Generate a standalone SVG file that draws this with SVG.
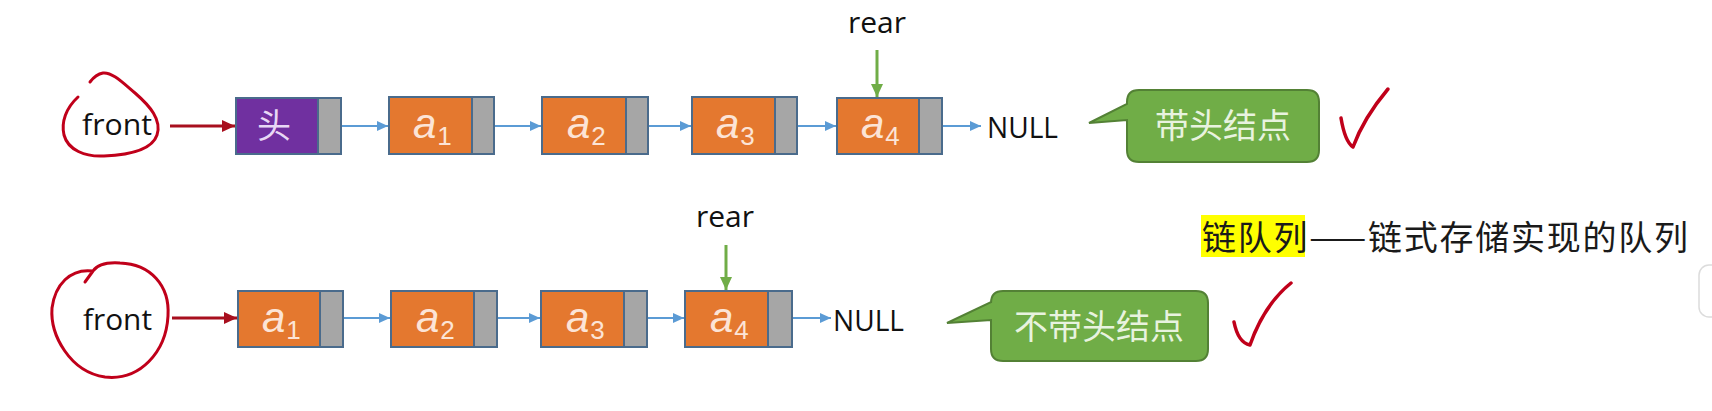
<svg xmlns="http://www.w3.org/2000/svg" width="1712" height="411" viewBox="0 0 1712 411">
<style>
.bg{fill:#ffffff}
.data{fill:#e4782f;stroke:none}
.headd{fill:#7030a0;stroke:none}
.ptr{fill:#a6a6a6;stroke:none}
.box{fill:none;stroke:#4a6b8c;stroke-width:2}
.lbl{font-family:"Liberation Sans",Arial,sans-serif;font-style:italic;fill:#fce4d6;font-size:42px}
.sub{font-family:"Liberation Sans",Arial,sans-serif;fill:#fce4d6;font-size:26px}
.txt{font-family:"Open Sans","Liberation Sans",sans-serif;fill:#111111;font-size:30px}
.blue{stroke:#5b9bd5;stroke-width:2;fill:none}
.red{stroke:#a80f1e;stroke-width:3;fill:none}
.green{stroke:#70ad47;stroke-width:3;fill:none}
.ink{stroke:#c0001a;stroke-width:3;fill:none;stroke-linecap:round;stroke-linejoin:round}
.callout{fill:#70ad47;stroke:#538135;stroke-width:2}
.ctext{font-family:"Noto Sans CJK SC",sans-serif;fill:#e8f3df;font-size:34px}
.cjk{font-family:"Noto Sans CJK SC",sans-serif;fill:#1a1a1a;font-size:34px}
</style>
<defs>
<marker id="ab" markerUnits="userSpaceOnUse" markerWidth="12" markerHeight="12" refX="11" refY="6" orient="auto"><path d="M0,1 L11,6 L0,11 Z" fill="#5b9bd5"/></marker>
<marker id="ar" markerUnits="userSpaceOnUse" markerWidth="14" markerHeight="14" refX="13" refY="7" orient="auto"><path d="M0,1 L13,7 L0,13 Z" fill="#a80f1e"/></marker>
<marker id="ag" markerUnits="userSpaceOnUse" markerWidth="14" markerHeight="14" refX="13" refY="7" orient="auto"><path d="M0,1 L13,7 L0,13 Z" fill="#70ad47"/></marker>
</defs>
<rect class="bg" x="0" y="0" width="1712" height="411"/>

<g id="connectors">
  <line class="red" x1="170" y1="126" x2="235" y2="126" marker-end="url(#ar)"/>
  <line class="blue" x1="341" y1="126" x2="388" y2="126" marker-end="url(#ab)"/>
  <line class="blue" x1="494" y1="126" x2="541" y2="126" marker-end="url(#ab)"/>
  <line class="blue" x1="648" y1="126" x2="691" y2="126" marker-end="url(#ab)"/>
  <line class="blue" x1="797" y1="126" x2="836" y2="126" marker-end="url(#ab)"/>
  <line class="blue" x1="942" y1="126" x2="981" y2="126" marker-end="url(#ab)"/>
  <line class="green" x1="877" y1="50" x2="877" y2="97" marker-end="url(#ag)"/>

  <line class="red" x1="172" y1="318" x2="237" y2="318" marker-end="url(#ar)"/>
  <line class="blue" x1="343" y1="318" x2="390" y2="318" marker-end="url(#ab)"/>
  <line class="blue" x1="497" y1="318" x2="540" y2="318" marker-end="url(#ab)"/>
  <line class="blue" x1="647" y1="318" x2="684" y2="318" marker-end="url(#ab)"/>
  <line class="blue" x1="792" y1="318" x2="831" y2="318" marker-end="url(#ab)"/>
  <line class="green" x1="726" y1="245" x2="726" y2="290" marker-end="url(#ag)"/>
</g>

<g id="front1">
  <path class="ink" d="M78 97 C66 108 61 122 64 135 C68 150 85 157 104 156 C128 155 152 150 157 135 C162 120 150 106 135 93 C122 82 112 72 103 73 C97 74 93 78 90 82"/>
  <text class="txt" x="82" y="135" textLength="70" lengthAdjust="spacingAndGlyphs">front</text>
</g>
<g id="front2">
  <path class="ink" d="M85 282 L93 271 C70 268 55 285 52 308 C50 335 70 372 105 377 C140 381 166 352 168 316 C170 285 150 264 120 263 C105 262 97 265 93 271"/>
  <text class="txt" x="83" y="330" textLength="69" lengthAdjust="spacingAndGlyphs">front</text>
</g>

<g id="head">
  <rect class="headd" x="236" y="98" width="82" height="56"/>
  <rect class="ptr" x="318" y="98" width="23" height="56"/>
  <rect class="box" x="236" y="98" width="105" height="56"/>
  <line class="box" x1="318" y1="98" x2="318" y2="154"/>
  <text x="274" y="138" text-anchor="middle" style="font-family:'Noto Sans CJK SC',sans-serif;font-size:34px;fill:#e8d8f5">头</text>
</g>

<g id="r1a1">
  <rect class="data" x="389" y="97" width="83" height="57"/>
  <rect class="ptr" x="472" y="97" width="22" height="57"/>
  <rect class="box" x="389" y="97" width="105" height="57"/>
  <line class="box" x1="472" y1="97" x2="472" y2="154"/>
  <text x="413" y="138"><tspan class="lbl">a</tspan><tspan class="sub" dx="1" dy="7">1</tspan></text>
</g>
<g id="r1a2">
  <rect class="data" x="542" y="97" width="84" height="57"/>
  <rect class="ptr" x="626" y="97" width="22" height="57"/>
  <rect class="box" x="542" y="97" width="106" height="57"/>
  <line class="box" x1="626" y1="97" x2="626" y2="154"/>
  <text x="567" y="138"><tspan class="lbl">a</tspan><tspan class="sub" dx="1" dy="7">2</tspan></text>
</g>
<g id="r1a3">
  <rect class="data" x="692" y="97" width="83" height="57"/>
  <rect class="ptr" x="775" y="97" width="22" height="57"/>
  <rect class="box" x="692" y="97" width="105" height="57"/>
  <line class="box" x1="775" y1="97" x2="775" y2="154"/>
  <text x="716" y="138"><tspan class="lbl">a</tspan><tspan class="sub" dx="1" dy="7">3</tspan></text>
</g>
<g id="r1a4">
  <rect class="data" x="837" y="98" width="82" height="56"/>
  <rect class="ptr" x="919" y="98" width="23" height="56"/>
  <rect class="box" x="837" y="98" width="105" height="56"/>
  <line class="box" x1="919" y1="98" x2="919" y2="154"/>
  <text x="861" y="138"><tspan class="lbl">a</tspan><tspan class="sub" dx="1" dy="7">4</tspan></text>
</g>
<g id="rear1"><text class="txt" x="877" y="33" text-anchor="middle">rear</text></g>
<g id="null1"><text class="txt" x="987" y="138" textLength="71" lengthAdjust="spacingAndGlyphs">NULL</text></g>

<g id="r2a1">
  <rect class="data" x="238" y="291" width="82" height="56"/>
  <rect class="ptr" x="320" y="291" width="23" height="56"/>
  <rect class="box" x="238" y="291" width="105" height="56"/>
  <line class="box" x1="320" y1="291" x2="320" y2="347"/>
  <text x="262" y="332"><tspan class="lbl">a</tspan><tspan class="sub" dx="1" dy="7">1</tspan></text>
</g>
<g id="r2a2">
  <rect class="data" x="391" y="291" width="83" height="56"/>
  <rect class="ptr" x="474" y="291" width="23" height="56"/>
  <rect class="box" x="391" y="291" width="106" height="56"/>
  <line class="box" x1="474" y1="291" x2="474" y2="347"/>
  <text x="416" y="332"><tspan class="lbl">a</tspan><tspan class="sub" dx="1" dy="7">2</tspan></text>
</g>
<g id="r2a3">
  <rect class="data" x="541" y="291" width="83" height="56"/>
  <rect class="ptr" x="624" y="291" width="23" height="56"/>
  <rect class="box" x="541" y="291" width="106" height="56"/>
  <line class="box" x1="624" y1="291" x2="624" y2="347"/>
  <text x="566" y="332"><tspan class="lbl">a</tspan><tspan class="sub" dx="1" dy="7">3</tspan></text>
</g>
<g id="r2a4">
  <rect class="data" x="685" y="291" width="83" height="56"/>
  <rect class="ptr" x="768" y="291" width="24" height="56"/>
  <rect class="box" x="685" y="291" width="107" height="56"/>
  <line class="box" x1="768" y1="291" x2="768" y2="347"/>
  <text x="710" y="332"><tspan class="lbl">a</tspan><tspan class="sub" dx="1" dy="7">4</tspan></text>
</g>
<g id="rear2"><text class="txt" x="725" y="227" text-anchor="middle">rear</text></g>
<g id="null2"><text class="txt" x="833" y="331" textLength="71" lengthAdjust="spacingAndGlyphs">NULL</text></g>

<g id="callout1">
  <path class="callout" d="M1139 90 H1307 Q1319 90 1319 102 V150 Q1319 162 1307 162 H1139 Q1127 162 1127 150 V120 L1089 123 L1127 104 V102 Q1127 90 1139 90 Z"/>
  <text class="ctext" x="1223" y="138" text-anchor="middle">带头结点</text>
</g>
<g id="check1">
  <path class="ink" style="stroke-width:3.5" d="M1341 118 C1343 130 1347 143 1353 147 C1360 128 1372 108 1388 89"/>
</g>

<g id="callout2">
  <path class="callout" d="M1003 291 H1196 Q1208 291 1208 303 V349 Q1208 361 1196 361 H1003 Q991 361 991 349 V320 L947 323 L991 302 V303 Q991 291 1003 291 Z"/>
  <text class="ctext" x="1099" y="339" text-anchor="middle">不带头结点</text>
</g>
<g id="check2">
  <path class="ink" style="stroke-width:3.5" d="M1234 322 C1236 332 1240 343 1250 345 C1258 322 1270 300 1291 283"/>
</g>

<g id="title">
  <rect x="1201" y="215" width="104" height="42" fill="#ffff00"/>
  <text class="cjk" x="1202" y="250" textLength="486" lengthAdjust="spacing">链队列——链式存储实现的队列</text>
</g>

<g id="edge">
  <rect x="1699" y="265" width="30" height="52" rx="10" fill="#ffffff" stroke="#dcdcdc" stroke-width="1.5"/>
</g>
</svg>
